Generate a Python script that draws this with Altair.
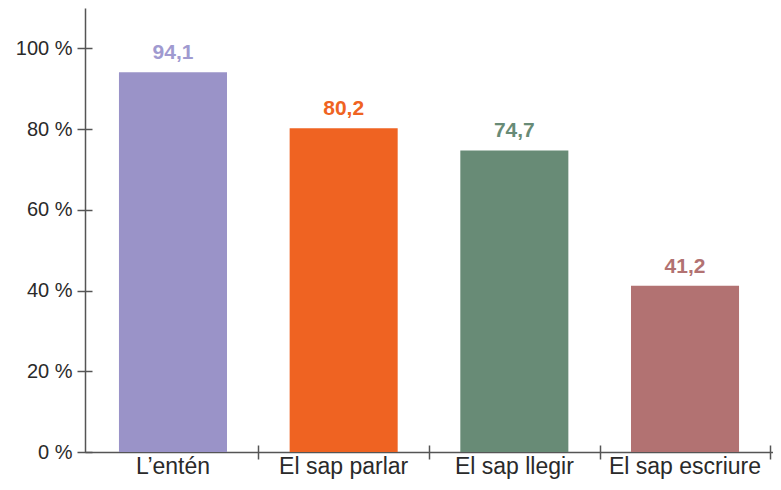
import altair as alt
import pandas as pd

categories = ["L\u2019entén", "El sap parlar", "El sap llegir", "El sap escriure"]
values = [94.1, 80.2, 74.7, 41.2]
bar_colors = ["#9a93c8", "#ef6322", "#688b76", "#b27272"]
label_colors = ["#a09ad0", "#ef6322", "#688b76", "#b27272"]
y_ticks = [0, 20, 40, 60, 80, 100]

df = pd.DataFrame({"cat": categories, "value": values, "lc": label_colors})

FONT = "Liberation Sans"
AXIS_COLOR = "#555555"
W = 688
STEP = W / (4 - 0.367 + 2 * 0.199)

xscale = alt.Scale(paddingInner=0.367, paddingOuter=0.199)
yscale = alt.Scale(domain=[0, 110], nice=False)

base = alt.Chart(df)

bars = base.mark_bar().encode(
    x=alt.X("cat:N", sort=categories, scale=xscale, title=None,
            axis=alt.Axis(orient="bottom", labelAngle=0, labelFontSize=23, labelFont=FONT,
                          labelColor="#2a2a2a", labelPadding=3, ticks=False, tickSize=0,
                          domain=True, domainColor=AXIS_COLOR, domainWidth=1.5,
                          grid=False, labelOverlap=False)),
    y=alt.Y("value:Q", scale=yscale, title=None,
            axis=alt.Axis(orient="left", values=y_ticks, labelExpr="datum.value + ' %'",
                          labelFontSize=20, labelFont=FONT, labelColor="#2a2a2a",
                          labelPadding=13, ticks=False, tickSize=0, domain=True,
                          domainColor=AXIS_COLOR, domainWidth=1.5, grid=False)),
    color=alt.Color("cat:N", sort=categories,
                    scale=alt.Scale(domain=categories, range=bar_colors), legend=None),
)

text = base.transform_calculate(
    lbl="replace(format(datum.value, '.1f'), '.', ',')"
).mark_text(baseline="bottom", dy=-9, fontSize=21, fontWeight="bold", font=FONT).encode(
    x=alt.X("cat:N", sort=categories, scale=xscale, title=None,
            axis=alt.Axis(orient="bottom", labels=False, domain=False, ticks=True,
                          tickSize=14, offset=-7, tickColor=AXIS_COLOR, tickWidth=1.5,
                          tickOffset=STEP / 2, grid=False)),
    y=alt.Y("value:Q", scale=yscale, title=None,
            axis=alt.Axis(orient="left", values=y_ticks, labels=False, domain=False,
                          ticks=True, tickSize=15, offset=-7, tickColor=AXIS_COLOR,
                          tickWidth=1.5, grid=False)),
    text="lbl:N",
    color=alt.Color("lc:N", scale=None, legend=None),
)

chart = alt.layer(bars, text).resolve_axis(x="independent", y="independent").properties(
    width=W,
    height=444,
    autosize=alt.AutoSizeParams(type="none"),
    padding={"left": 77, "top": 0, "right": 0, "bottom": 30},
    background="white",
).configure_view(stroke=None)

chart.save("out.html", embed_options={"renderer": "svg", "actions": False})
